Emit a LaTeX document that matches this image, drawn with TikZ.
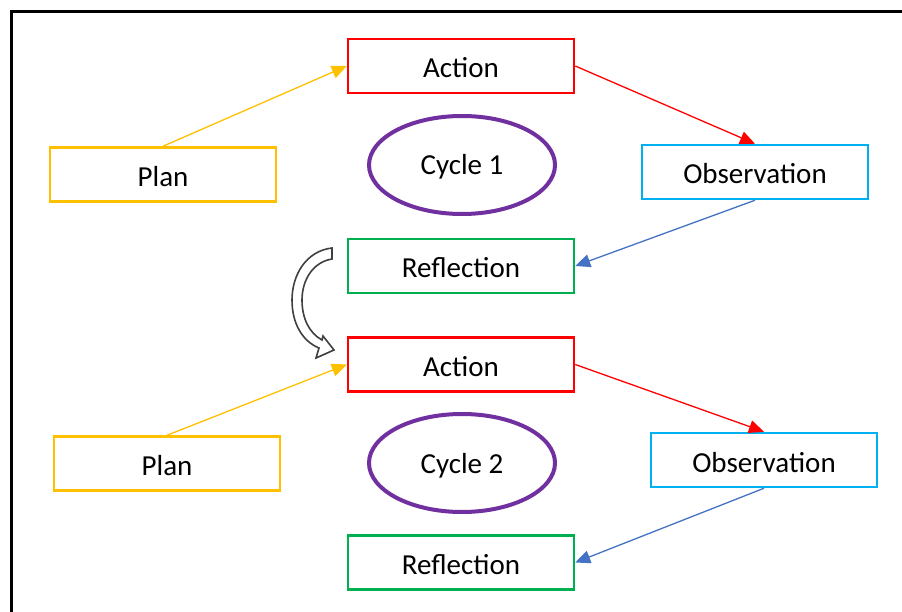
\documentclass[tikz,border=0pt]{standalone}
\usepackage{fontspec}
\setmainfont{Carlito}
\usetikzlibrary{arrows.meta,shapes.geometric}
\definecolor{cred}{HTML}{FF0000}
\definecolor{cyel}{HTML}{FFC000}
\definecolor{ccyan}{HTML}{00B0F0}
\definecolor{cgreen}{HTML}{00B050}
\definecolor{cpurp}{HTML}{7030A0}
\definecolor{cblue}{HTML}{4472C4}
\definecolor{cgray}{HTML}{404040}
\tikzset{
  box/.style={draw, rectangle, line width=2.5pt, minimum width=226pt, minimum height=54pt, inner sep=0pt,
    text height=26pt, text depth=2pt, font=\fontsize{29}{34}\selectfont},
  cyc/.style={draw=cpurp, ellipse, line width=4pt, minimum width=186pt, minimum height=98pt, inner sep=0pt,
    text height=22pt, text depth=2pt, font=\fontsize{29}{34}\selectfont},
  con/.style={line width=1.3pt, -{Triangle[length=15pt,width=13pt]}},
}
\begin{document}
\begin{tikzpicture}[x=1pt,y=-1pt]
\useasboundingbox (0,0) rectangle (902,612);
\draw[line width=3pt, line cap=rect] (11,613) -- (11,12) -- (903,12);

\node[box, draw=cred] (a1) at (461,66) {Action};
\node[box, draw=cyel] (p1) at (163,174.5) {Plan};
\node[cyc] (c1) at (462,165) {Cycle 1};
\node[box, draw=ccyan] (o1) at (755,172) {Observation};
\node[box, draw=cgreen] (r1) at (461,266) {Reflection};

\node[box, draw=cred] (a2) at (461,364.5) {Action};
\node[box, draw=cyel] (p2) at (167,463.5) {Plan};
\node[cyc] (c2) at (462,463) {Cycle 2};
\node[box, draw=ccyan] (o2) at (764,460) {Observation};
\node[box, draw=cgreen] (r2) at (461,562.5) {Reflection};

\draw[con, cyel] (p1.north) -- (a1.west);
\draw[con, cred] (a1.east) -- (o1.north);
\draw[con, cblue] (o1.south) -- (r1.east);
\draw[con, cyel] (p2.north) -- (a2.west);
\draw[con, cred] (a2.east) -- (o2.north);
\draw[con, cblue] (o2.south) -- (r2.east);

% curved block arrow from reflection 1 to action 2
\draw[cgray, fill=white, line width=1.6pt, line join=miter]
  (332,248) .. controls (306,251) and (292,275) .. (292,300)
  .. controls (292,323) and (302,341) .. (319,348)
  -- (316,358) -- (334,350) -- (323,336) -- (322,340)
  .. controls (309,333) and (302,318) .. (302,300)
  .. controls (302,280) and (313,262) .. (332,259) -- cycle;
\end{tikzpicture}
\end{document}
